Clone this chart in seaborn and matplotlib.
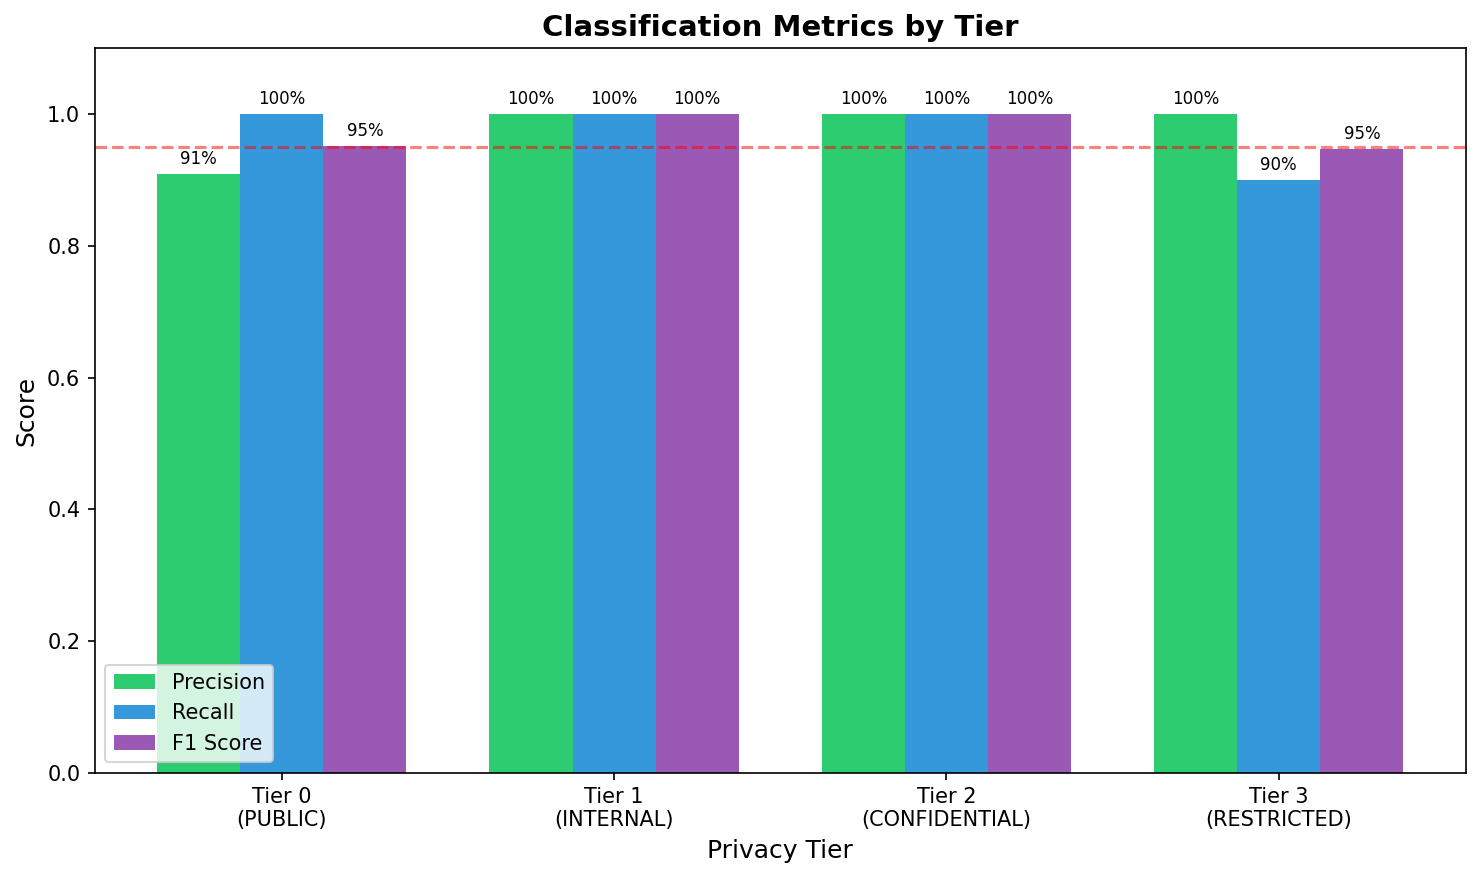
import pandas as pd
import matplotlib
matplotlib.use('Agg')
import matplotlib.pyplot as plt
import seaborn as sns

# values
tiers = ['Tier 0\n(PUBLIC)', 'Tier 1\n(INTERNAL)', 'Tier 2\n(CONFIDENTIAL)', 'Tier 3\n(RESTRICTED)']
metrics = ['Precision', 'Recall', 'F1 Score']
precision = [0.909, 1.0, 1.0, 1.0]
recall = [1.0, 1.0, 1.0, 0.9]
f1_score = [0.952, 1.0, 1.0, 0.947]
target = 0.95

colors = ['#2ecc71', '#3498db', '#9b59b6']

rows = []
for metric, vals in zip(metrics, [precision, recall, f1_score]):
    for tier, v in zip(tiers, vals):
        rows.append({'tier': tier, 'metric': metric, 'score': v})
df = pd.DataFrame(rows)

fig = plt.figure(figsize=(9.88, 5.86), dpi=150)
ax = fig.add_axes([0.064, 0.121, 0.925, 0.824])

sns.barplot(data=df, x='tier', y='score', hue='metric', hue_order=metrics,
            palette=colors, width=0.75, saturation=1, ax=ax)

for cont in ax.containers:
    ax.bar_label(cont, labels=[f'{b.get_height():.0%}' for b in cont],
                 padding=3, fontsize=8)

ax.axhline(target, color='red', linestyle='--', alpha=0.5)
ax.set_ylim(0, 1.1)
ax.set_xlim(-0.5625, 3.5625)
ax.set_xlabel('Privacy Tier', fontsize=12)
ax.set_ylabel('Score', fontsize=12)
ax.set_title('Classification Metrics by Tier', fontsize=14, fontweight='bold')
ax.legend(loc='lower left', fontsize=10)

fig.savefig('out.png', dpi=150)
